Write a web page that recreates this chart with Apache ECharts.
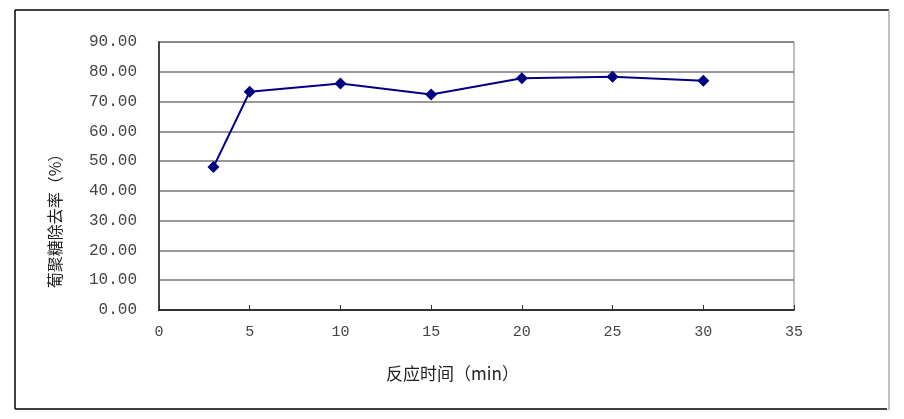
<!DOCTYPE html>
<html>
<head>
<meta charset="utf-8">
<script src="https://cdn.jsdelivr.net/npm/echarts@6/dist/echarts.min.js"></script>
<style>
  html, body { margin: 0; padding: 0; background: #fff; }
  #chart { width: 904px; height: 419px; }
</style>
</head>
<body>
<div id="chart"></div>
<script>
// 反应时间 (min) 与 葡聚糖除去率 (%)
var times = [3, 5, 10, 15, 20, 25, 30];
var removalRate = [48.0, 73.3, 76.1, 72.4, 77.8, 78.3, 77.0];
var xName = '反应时间（min）';
var yName = '葡聚糖除去率（%）';

var myChart = echarts.init(document.getElementById('chart'));
var cjk = '"Noto Sans CJK SC", sans-serif';
var mono = '"Liberation Mono", monospace';

myChart.setOption({
  backgroundColor: '#fff',
  animation: false,
  grid: {
    left: 159, top: 42, right: 110, bottom: 109,
    show: true, borderColor: '#808080', borderWidth: 1
  },
  xAxis: {
    type: 'value', min: 0, max: 35, interval: 5,
    name: xName, nameLocation: 'middle', nameGap: 55,
    nameTextStyle: { fontFamily: cjk, fontSize: 17, color: '#222', padding: [0, 48, 0, 0] },
    axisLine: { lineStyle: { color: '#333', width: 2 } },
    axisTick: { inside: true, length: 5, lineStyle: { color: '#333' } },
    axisLabel: { fontFamily: mono, fontSize: 15, color: '#444', margin: 15 },
    splitLine: { show: false }
  },
  yAxis: {
    type: 'value', min: 0, max: 90, interval: 10,
    axisLine: { show: true, lineStyle: { color: '#444', width: 2 } },
    axisTick: { show: false },
    axisLabel: {
      fontFamily: mono, fontSize: 16, color: '#444', margin: 22,
      formatter: function (v) { return v.toFixed(2); }
    },
    splitLine: { lineStyle: { color: '#777', width: 1.5 } }
  },
  graphic: [
    { type: 'line', shape: { x1: 15, y1: 10, x2: 889, y2: 10 }, style: { stroke: '#000', lineWidth: 1.5 } },
    { type: 'line', shape: { x1: 15, y1: 10, x2: 15, y2: 409 }, style: { stroke: '#000', lineWidth: 1.5 } },
    { type: 'line', shape: { x1: 15, y1: 409, x2: 887, y2: 409 }, style: { stroke: '#000', lineWidth: 1.5 } },
    { type: 'line', shape: { x1: 889, y1: 10, x2: 889, y2: 410 }, style: { stroke: '#aaa', lineWidth: 1.5 } },
    {
      type: 'text', x: 55, y: 217, rotation: Math.PI / 2,
      style: { text: yName, font: '16px ' + cjk, fill: '#222', align: 'center', verticalAlign: 'middle' }
    }
  ],
  series: [{
    type: 'line',
    data: times.map(function (t, i) { return [t, removalRate[i]]; }),
    symbol: 'diamond', symbolSize: 12,
    lineStyle: { color: '#000080', width: 2 },
    itemStyle: { color: '#000080' }
  }]
});
</script>
</body>
</html>
